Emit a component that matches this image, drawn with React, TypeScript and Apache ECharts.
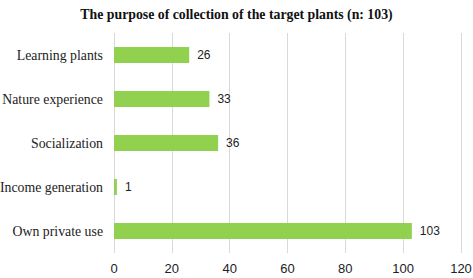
import React, { useEffect, useRef } from "react";
import * as echarts from "echarts";

const categories = ["Own private use", "Income generation", "Socialization", "Nature experience", "Learning plants"];
const values = [103, 1, 36, 33, 26];
const titleText = "The purpose of collection of the target plants (n: 103)";

export default function App() {
  const ref = useRef<HTMLDivElement>(null);
  useEffect(() => {
    const chart = echarts.init(ref.current!, null, { renderer: "svg" });
    chart.setOption({
      animation: false,
      title: {
        text: titleText,
        left: "center",
        top: 2,
        textStyle: { fontFamily: "Liberation Serif", fontWeight: "bold", fontSize: 13.8, color: "#111" },
      },
      grid: { left: 114, right: 12, top: 33, bottom: 25, containLabel: false, outerBoundsMode: "none" },
      xAxis: {
        type: "value",
        min: 0,
        max: 120,
        interval: 20,
        axisLine: { show: false },
        axisTick: { show: false },
        axisLabel: { fontFamily: "Liberation Sans", fontSize: 13, color: "#222", margin: 9 },
        splitLine: { lineStyle: { color: "#d9d9d9", width: 1 } },
      },
      yAxis: {
        type: "category",
        data: categories,
        axisLine: { show: false },
        axisTick: { show: false },
        axisLabel: { fontFamily: "Liberation Serif", fontSize: 13.8, color: "#222", margin: 11 },
      },
      series: [
        {
          type: "bar",
          data: values,
          barWidth: 16,
          itemStyle: { color: "#92D050" },
          label: {
            show: true,
            position: "right",
            distance: 8,
            fontFamily: "Liberation Sans",
            fontSize: 12,
            color: "#222",
          },
        },
      ],
    });
    return () => chart.dispose();
  }, []);
  return <div ref={ref} style={{ width: 473, height: 278, position: "absolute", left: 0, top: 0 }} />;
}
